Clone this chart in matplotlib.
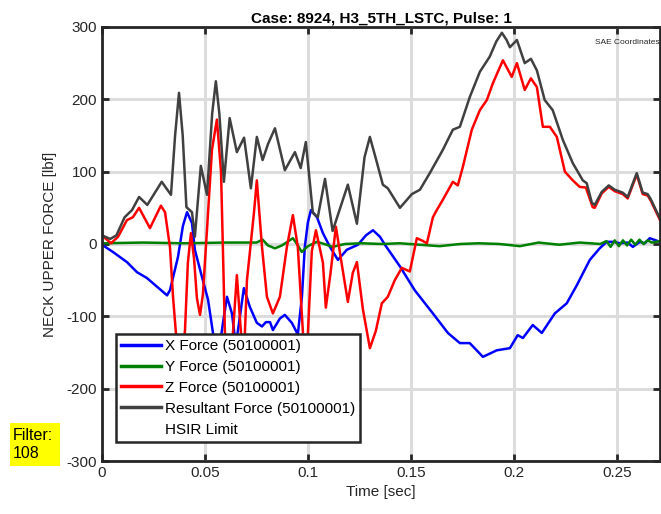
import matplotlib
matplotlib.use("Agg")
import matplotlib.pyplot as plt
from matplotlib.lines import Line2D
from matplotlib.patches import Rectangle

plt.rcParams["font.family"] = ["Liberation Sans", "DejaVu Sans"]
plt.rcParams["axes.unicode_minus"] = False

# neck upper loads, sampled along each trace (time in s, force in lbf)
t_res = [0.0, 0.004, 0.007, 0.011, 0.0146, 0.018, 0.022, 0.029, 0.0335, 0.0355,
         0.0374, 0.0392, 0.041, 0.0437, 0.0451, 0.048, 0.051, 0.0535, 0.0553, 0.057,
         0.0592, 0.062, 0.0655, 0.069, 0.0723, 0.0752, 0.078, 0.0806, 0.084, 0.0888,
         0.0937, 0.0965, 0.099, 0.1024, 0.1048, 0.1083, 0.112, 0.1194, 0.1238, 0.1275,
         0.1301, 0.133, 0.1364, 0.1388, 0.1447, 0.1505, 0.1544, 0.1592, 0.1655, 0.1704,
         0.1738, 0.1786, 0.1835, 0.1883, 0.1915, 0.1942, 0.1965, 0.1981, 0.2015, 0.2053,
         0.2083, 0.2112, 0.215, 0.2189, 0.2238, 0.2286, 0.2335, 0.2354, 0.2379, 0.2393,
         0.2427, 0.2461, 0.249, 0.2529, 0.2553, 0.2597, 0.2626, 0.265, 0.2665, 0.271]
resultant = [12, 7, 12, 37, 47, 65, 54, 86, 68, 150,
             209, 150, 51, 44, 10, 108, 68, 180, 225, 180,
             86, 174, 127, 147, 77, 148, 116, 138, 160, 102,
             127, 105, 141, 43, 37, 90, 18, 82, 28, 120,
             148, 118, 82, 77, 50, 69, 75, 98, 130, 158,
             162, 203, 238, 259, 280, 292, 282, 272, 282, 250,
             256, 240, 199, 185, 144, 112, 88, 84, 57, 54,
             72, 81, 75, 71, 65, 98, 71, 69, 62, 35]

t_z = [0.0, 0.0044, 0.0078, 0.0121, 0.015, 0.018, 0.0233, 0.0286, 0.0306, 0.033,
       0.0345, 0.0359, 0.0379, 0.0403, 0.0417, 0.0432, 0.0447, 0.0461, 0.0476, 0.049,
       0.051, 0.0534, 0.0558, 0.0578, 0.0587, 0.0597, 0.0617, 0.0636, 0.0655, 0.0675,
       0.0689, 0.0704, 0.0738, 0.0752, 0.0777, 0.0801, 0.083, 0.0864, 0.0898, 0.0927,
       0.0951, 0.0976, 0.0985, 0.1, 0.1019, 0.1039, 0.1073, 0.1087, 0.111, 0.1136,
       0.116, 0.1194, 0.1218, 0.1238, 0.1267, 0.1301, 0.133, 0.1359, 0.1388, 0.1422,
       0.1456, 0.1495, 0.1529, 0.1553, 0.1578, 0.1607, 0.1626, 0.1655, 0.1704, 0.1728,
       0.1752, 0.1796, 0.1835, 0.1869, 0.1898, 0.1947, 0.199, 0.2015, 0.2053, 0.2083,
       0.2112, 0.2141, 0.2175, 0.2209, 0.2248, 0.2286, 0.232, 0.235, 0.2383, 0.2393,
       0.2427, 0.2461, 0.249, 0.2529, 0.2553, 0.2597, 0.2626, 0.265, 0.2665, 0.271]
z_force = [12, 1, 10, 33, 37, 50, 22, 53, 44, -4,
           -73, -123, -180, -120, -26, 15, -20, -75, -98, -70,
           20, 130, 172, 100, -4, -123, -180, -123, -43, -123,
           -160, -50, 43, 88, -4, -73, -96, -73, -4, 40,
           -4, -123, -150, -123, -10, 19, -26, -88, -40, 24,
           -20, -80, -40, -25, -90, -144, -120, -82, -73, -50,
           -33, -38, 8, 5, 1, 37, 47, 61, 86, 81,
           106, 158, 185, 199, 222, 254, 231, 250, 213, 229,
           217, 162, 162, 148, 100, 88, 79, 78, 51, 50,
           70, 79, 73, 69, 63, 96, 69, 67, 60, 33]

t_x = [0.0, 0.0053, 0.0121, 0.017, 0.0218, 0.0267, 0.0316, 0.033, 0.0369, 0.0393,
       0.0413, 0.0437, 0.0451, 0.0485, 0.0515, 0.0539, 0.0563, 0.0587, 0.0607, 0.0631,
       0.065, 0.067, 0.0689, 0.0718, 0.0752, 0.0777, 0.0796, 0.0816, 0.083, 0.0864,
       0.0888, 0.0922, 0.0951, 0.0971, 0.0985, 0.1, 0.1015, 0.1044, 0.1073, 0.1107,
       0.1146, 0.1189, 0.1243, 0.1282, 0.1316, 0.135, 0.1374, 0.1447, 0.1519, 0.1607,
       0.168, 0.1738, 0.1786, 0.185, 0.1917, 0.1981, 0.2019, 0.2044, 0.2092, 0.2136,
       0.2199, 0.2257, 0.2306, 0.2369, 0.2417, 0.2451, 0.2485, 0.2515, 0.2553, 0.2578,
       0.2612, 0.2636, 0.266, 0.271]
x_force = [-1, -11, -25, -39, -47, -59, -71, -64, -18, 25,
           44, 29, -8, -45, -77, -123, -160, -110, -73, -96,
           -140, -100, -61, -87, -109, -114, -108, -108, -119, -103,
           -98, -109, -125, -73, -4, 30, 47, 37, 15, -4,
           -22, -8, -1, 12, 19, 10, -1, -31, -64, -96,
           -123, -137, -137, -156, -147, -144, -126, -130, -112, -123,
           -96, -82, -57, -22, -6, 3, 3, 1, 2, -4,
           3, 1, 8, 3]

t_y = [0.0, 0.02, 0.04, 0.06, 0.075, 0.078, 0.0806, 0.084, 0.0874, 0.0927,
       0.0947, 0.097, 0.1, 0.1044, 0.108, 0.112, 0.118, 0.126, 0.136, 0.1447,
       0.154, 0.164, 0.174, 0.183, 0.193, 0.203, 0.212, 0.222, 0.232, 0.242,
       0.245, 0.247, 0.249, 0.251, 0.253, 0.255, 0.257, 0.259, 0.261, 0.263,
       0.265, 0.267, 0.271]
y_force = [1, 2, 1, 2, 2, 6, -2, -6, -2, 8,
           0, -11, -3, 3, 0, -4, 0, 1, 0, 1,
           -1, -3, 0, 1, 0, -3, 2, -1, 2, 0,
           4, -4, 5, -3, 5, -2, 6, -1, 6, 0,
           5, 2, 4]

x_ticks = [0, 0.05, 0.1, 0.15, 0.2, 0.25]
x_tick_labels = ["0", "0.05", "0.1", "0.15", "0.2", "0.25"]
y_ticks = [-300, -200, -100, 0, 100, 200, 300]

fig = plt.figure(figsize=(6.61, 5.14), dpi=100)
ax = fig.add_axes([0.1543, 0.1031, 0.8442, 0.8444])

ax.plot(t_x, x_force, color="#0000ff", lw=1.8, label="X Force (50100001)")
ax.plot(t_y, y_force, color="#008000", lw=1.8, label="Y Force (50100001)")
ax.plot(t_z, z_force, color="#ff0000", lw=1.8, label="Z Force (50100001)")
ax.plot(t_res, resultant, color="#404040", lw=1.8, label="Resultant Force (50100001)")

ax.set_xlim(0, 0.271)
ax.set_ylim(-300, 300)
ax.set_xticks(x_ticks)
ax.set_xticklabels(x_tick_labels)
ax.set_yticks(y_ticks)
ax.grid(True, color="#dcdcdc", lw=2.2)
ax.set_axisbelow(True)
ax.tick_params(direction="in", length=5, width=2, top=True, right=True,
               labelsize=11, labelcolor="#262626", color="#262626")
for s in ax.spines.values():
    s.set_color("#262626")
    s.set_linewidth(2)

ax.set_title("Case: 8924, H3_5TH_LSTC, Pulse: 1", fontsize=11, fontweight="bold", pad=3)
ax.set_xlabel("Time [sec]", fontsize=11, color="#262626", labelpad=4)
ax.set_ylabel("NECK UPPER FORCE [lbf]", fontsize=11, color="#262626", labelpad=7)
ax.text(0.999, 0.965, "SAE Coordinates", transform=ax.transAxes, ha="right", va="center",
        fontsize=6, color="#262626")

handles, labels = ax.get_legend_handles_labels()
handles.append(Line2D([], [], color="none"))
labels.append("HSIR Limit")
leg = ax.legend(handles, labels, loc="lower left", bbox_to_anchor=(0.025, 0.044),
                borderaxespad=0, fontsize=11, fancybox=False, framealpha=1,
                handlelength=2.6, handletextpad=0.25, labelspacing=0.45,
                borderpad=0.35)
leg.get_frame().set_edgecolor("#262626")
leg.get_frame().set_linewidth(1.8)
for line in leg.get_lines():
    line.set_linewidth(2.5)

# yellow filter tag in the lower-left corner
fig.patches.append(Rectangle((0.0151, 0.0934), 0.0757, 0.0836, transform=fig.transFigure,
                             facecolor="#ffff00", edgecolor="none", zorder=0))
fig.text(0.019, 0.1355, "Filter:\n108", fontsize=11.5, ha="left", va="center",
         linespacing=1.2)

fig.savefig("out.png", dpi=100)
